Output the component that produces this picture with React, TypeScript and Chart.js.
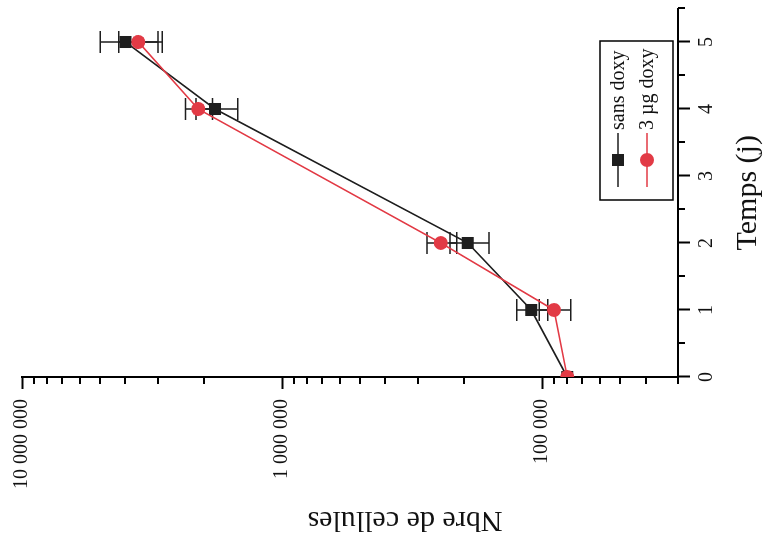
import React, { useEffect, useRef } from 'react';
import { Chart, registerables } from 'chart.js';

Chart.register(...registerables);

// ---- data ----
const days = [0, 1, 2, 4, 5];
const sansDoxy = [80000, 110000, 193000, 1810000, 4000000];
const sansDoxyErr = [0, 15000, 33000, 330000, 1000000];
const doxy3 = [80000, 90000, 245000, 2100000, 3570000];
const doxy3Err = [0, 12500, 32000, 250000, 680000];
const seriesLabels = ['sans doxy', '3 µg doxy'];

const timeTicks = [0, 1, 2, 3, 4, 5];
const timeMinorTicks = [0.5, 1.5, 2.5, 3.5, 4.5, 5.5];
const cellTicks = [100000, 1000000, 10000000];
const cellTickLabels = ['100 000', '1 000 000', '10 000 000'];
const cellMinorTicks = [
  30000, 40000, 50000, 60000, 70000, 80000, 90000,
  200000, 300000, 400000, 500000, 600000, 700000, 800000, 900000,
  2000000, 3000000, 4000000, 5000000, 6000000, 7000000, 8000000, 9000000,
];
const xTitle = 'Temps (j)';
const yTitle = 'Nbre de cellules';

const FONT = '"Liberation Serif", "Times New Roman", serif';
const BLACK = '#1e1e1e';
const RED = '#e23a45';
const errorSets = [sansDoxyErr, doxy3Err];

// canvas is drawn in the original orientation and rotated -90deg on screen
const W = 539;
const H = 768;

const decorPlugin = {
  id: 'decor',
  beforeDatasetsDraw(chart: any) {
    const { ctx } = chart;
    const x = chart.scales.x;
    const y = chart.scales.y;
    ctx.save();
    ctx.strokeStyle = BLACK;
    ctx.lineWidth = 1.5;
    chart.data.datasets.forEach((ds: any, i: number) => {
      const errs = errorSets[i];
      ds.data.forEach((p: any, j: number) => {
        const e = errs[j];
        if (!e) return;
        const px = x.getPixelForValue(p.x);
        const yh = y.getPixelForValue(p.y + e);
        const yl = y.getPixelForValue(p.y - e);
        ctx.beginPath();
        ctx.moveTo(px, yh);
        ctx.lineTo(px, yl);
        ctx.moveTo(px - 11, yh);
        ctx.lineTo(px + 11, yh);
        ctx.moveTo(px - 11, yl);
        ctx.lineTo(px + 11, yl);
        ctx.stroke();
      });
    });
    ctx.restore();
  },
  afterDraw(chart: any) {
    const { ctx, chartArea } = chart;
    const x = chart.scales.x;
    const y = chart.scales.y;
    ctx.save();
    // minor ticks
    ctx.strokeStyle = '#000';
    ctx.lineWidth = 2;
    ctx.beginPath();
    timeMinorTicks.forEach((v) => {
      const px = Math.round(x.getPixelForValue(v));
      ctx.moveTo(px, chartArea.bottom);
      ctx.lineTo(px, chartArea.bottom + 7);
    });
    cellMinorTicks.forEach((v) => {
      const py = Math.round(y.getPixelForValue(v));
      ctx.moveTo(chartArea.left, py);
      ctx.lineTo(chartArea.left - 7, py);
    });
    ctx.stroke();

    // axis titles
    ctx.fillStyle = '#111';
    ctx.font = `30px ${FONT}`;
    ctx.textAlign = 'center';
    ctx.textBaseline = 'middle';
    ctx.fillText(xTitle, (chartArea.left + chartArea.right) / 2, 748);
    ctx.save();
    ctx.translate(19, 405);
    ctx.rotate(-Math.PI / 2);
    ctx.fillText(yTitle, 0, 0);
    ctx.restore();

    // legend
    const bx = 339, by = 600, bw = 159, bh = 73;
    ctx.lineWidth = 1.5;
    ctx.strokeStyle = '#000';
    ctx.strokeRect(bx, by, bw, bh);
    const rows = [
      { yy: 618, color: BLACK, style: 'rect' },
      { yy: 647, color: RED, style: 'circle' },
    ];
    ctx.font = `20px ${FONT}`;
    ctx.textAlign = 'left';
    rows.forEach((r, i) => {
      ctx.strokeStyle = r.color;
      ctx.lineWidth = 1.5;
      ctx.beginPath();
      ctx.moveTo(352, r.yy);
      ctx.lineTo(406, r.yy);
      ctx.stroke();
      ctx.fillStyle = r.color;
      if (r.style === 'rect') {
        ctx.fillRect(379 - 6, r.yy - 6, 12, 12);
      } else {
        ctx.beginPath();
        ctx.arc(379, r.yy, 7, 0, Math.PI * 2);
        ctx.fill();
      }
      ctx.fillStyle = '#111';
      ctx.fillText(seriesLabels[i], 409, r.yy + 1);
    });
    ctx.restore();
  },
};

export default function App() {
  const ref = useRef<HTMLCanvasElement | null>(null);

  useEffect(() => {
    if (!ref.current) return;
    const chart = new Chart(ref.current, {
      type: 'line',
      data: {
        datasets: [
          {
            label: seriesLabels[0],
            data: days.map((d, i) => ({ x: d, y: sansDoxy[i] })),
            borderColor: BLACK,
            backgroundColor: BLACK,
            pointBackgroundColor: BLACK,
            pointBorderColor: BLACK,
            pointStyle: 'rect',
            pointRadius: 8.5,
            pointBorderWidth: 0,
            borderWidth: 1.6,
            order: 1,
          },
          {
            label: seriesLabels[1],
            data: days.map((d, i) => ({ x: d, y: doxy3[i] })),
            borderColor: RED,
            backgroundColor: RED,
            pointBackgroundColor: RED,
            pointBorderColor: RED,
            pointStyle: 'circle',
            pointRadius: 7,
            pointBorderWidth: 0,
            borderWidth: 1.6,
            order: 0,
          },
        ],
      },
      options: {
        animation: false,
        responsive: false,
        maintainAspectRatio: false,
        events: [],
        layout: { padding: { top: 22, right: 6, left: 0, bottom: 0 } },
        plugins: { legend: { display: false }, tooltip: { enabled: false } },
        scales: {
          x: {
            type: 'linear',
            min: 0,
            max: 5.5,
            afterBuildTicks: (s: any) => {
              s.ticks = timeTicks.map((v) => ({ value: v }));
            },
            afterFit: (s: any) => {
              s.height = 90;
            },
            ticks: {
              font: { family: FONT, size: 20 },
              color: '#111',
              padding: 5,
              maxRotation: 0,
              minRotation: 0,
              callback: (v: any) => String(v),
            },
            grid: {
              display: true,
              drawOnChartArea: false,
              drawTicks: true,
              tickLength: 12,
              tickWidth: 2,
              tickColor: '#000',
            },
            border: { display: true, color: '#000', width: 2 },
          },
          y: {
            type: 'logarithmic',
            min: 30000,
            max: 10000000,
            afterBuildTicks: (s: any) => {
              s.ticks = cellTicks.map((v) => ({ value: v }));
            },
            afterFit: (s: any) => {
              s.width = 162;
            },
            ticks: {
              font: { family: FONT, size: 20 },
              color: '#111',
              padding: 10,
              callback: (v: any) => {
                const k = cellTicks.indexOf(Number(v));
                return k >= 0 ? cellTickLabels[k] : '';
              },
            },
            grid: {
              display: true,
              drawOnChartArea: false,
              drawTicks: true,
              tickLength: 12,
              tickWidth: 2,
              tickColor: '#000',
            },
            border: { display: true, color: '#000', width: 2 },
          },
        },
      },
      plugins: [decorPlugin],
    } as any);
    return () => chart.destroy();
  }, []);

  return (
    <div
      style={{
        position: 'fixed',
        left: 0,
        top: 0,
        width: 768,
        height: 539,
        overflow: 'hidden',
        background: '#fff',
      }}
    >
      <div
        style={{
          position: 'absolute',
          left: 0,
          top: 0,
          width: W,
          height: H,
          transformOrigin: '0 0',
          transform: `translate(0px, ${W}px) rotate(-90deg)`,
        }}
      >
        <canvas ref={ref} width={W} height={H} style={{ width: W, height: H, display: 'block' }} />
      </div>
    </div>
  );
}
